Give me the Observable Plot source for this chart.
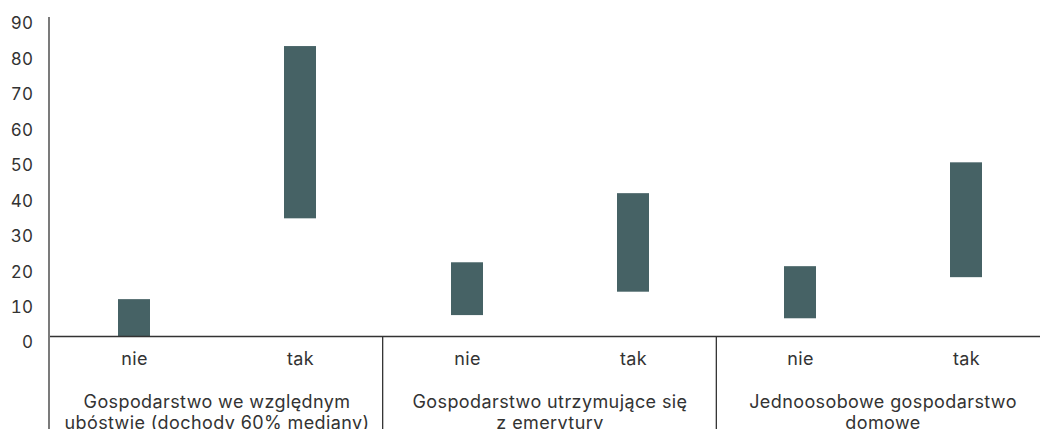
<!DOCTYPE html>
<html><head><meta charset="utf-8">
<script src="https://cdn.jsdelivr.net/npm/d3@7"></script>
<script src="https://cdn.jsdelivr.net/npm/@observablehq/plot@0.6"></script>
<style>html,body{margin:0;padding:0;overflow:hidden;background:#fff}</style>
</head><body><div id="chart"></div>
<script>
const groups = [
  "Gospodarstwo we względnym\nubóstwie (dochody 60% mediany)",
  "Gospodarstwo utrzymujące się\nz emerytury",
  "Jednoosobowe gospodarstwo\ndomowe"
];
const answers = ["nie", "tak"];
const lowValues = [0, 33.2, 5.9, 12.5, 5.0, 16.6];
const highValues = [10.4, 81.8, 20.8, 40.3, 19.7, 49.0];
const yTicks = [0, 10, 20, 30, 40, 50, 60, 70, 80, 90];

const rows = groups.flatMap((g, gi) => answers.map((a, ai) => ({
  group: g, answer: a, low: lowValues[gi * 2 + ai], high: highValues[gi * 2 + ai]
})));

const font = "Inter, 'Open Sans', sans-serif";
const ink = "#333333";
const H = 429;

const chart = Plot.plot({
  width: 1050, height: H,
  marginTop: 17, marginBottom: 93, marginLeft: 49, marginRight: 0,
  style: {fontFamily: font, fontSize: "18px", color: ink, background: "#fff", maxWidth: "none", letterSpacing: "0.4px"},
  fx: {domain: groups, padding: 0, axis: null},
  x: {domain: answers, paddingInner: 0.808, paddingOuter: 0.404, axis: null},
  y: {domain: [0, 90], axis: null},
  marks: [
    Plot.barY(rows, {fx: "group", x: "answer", y1: "low", y2: "high", fill: "#466265"}),
    Plot.ruleY([0], {stroke: ink, strokeWidth: 1.3}),
    Plot.axisY(yTicks, {anchor: "left", tickSize: 0, tickPadding: 17, dy: 6.5, label: null, fill: ink, fontSize: 17, fontFamily: font}),
    Plot.axisX({anchor: "bottom", tickSize: 0, tickPadding: 15.5, label: null, fill: ink, fontSize: 18, fontFamily: font}),
    Plot.text(groups, {fx: d => d, text: d => d, frameAnchor: "bottom", lineAnchor: "top", dy: 56, lineHeight: 1.2, fill: ink, fontSize: 18, fontFamily: font})
  ]
});

const fxs = chart.scale("fx");
const ys = chart.scale("y");
const [fx0, fx1] = fxs.range;
const step = (fx1 - fx0) / groups.length;
const yBase = ys.range[0], yTop = ys.range[1];
const seps = d3.range(groups.length + 1).map(i => ({x: fx0 + i * step, y1: i === 0 ? yTop : yBase}));
d3.select(chart).append("g")
  .attr("stroke", ink).attr("stroke-width", 1.3)
  .selectAll("line").data(seps).join("line")
  .attr("x1", d => d.x).attr("x2", d => d.x)
  .attr("y1", d => d.y1).attr("y2", H);

document.getElementById("chart").append(chart);
</script>
</body></html>
